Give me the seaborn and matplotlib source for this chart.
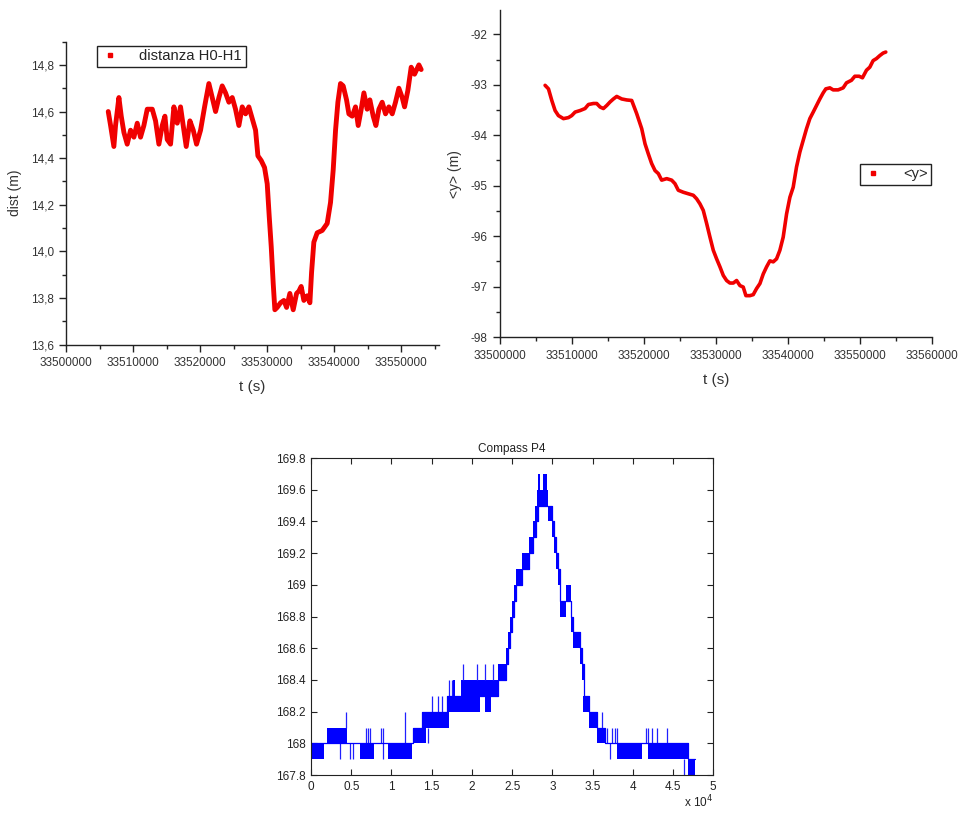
import matplotlib
matplotlib.use("Agg")
import matplotlib.pyplot as plt
import seaborn as sns
from matplotlib.lines import Line2D
from matplotlib.ticker import FuncFormatter, MultipleLocator

# distanza H0-H1 (top left)
dist_t = [33506270, 33506620, 33507110, 33507360, 33507860, 33508210, 33508610, 33509100,
          33509600, 33510100, 33510600, 33511090, 33511590, 33512090, 33512840, 33513330,
          33513830, 33514330, 33514730, 33515070, 33515570, 33516070, 33516570, 33517060,
          33517460, 33517910, 33518460, 33518960, 33519450, 33520050, 33520650, 33521290,
          33521790, 33522290, 33522790, 33523280, 33523780, 33524280, 33524780, 33525270,
          33525770, 33526270, 33526770, 33527260, 33527760, 33528260, 33528610, 33529100,
          33529600, 33530000, 33530300, 33530600, 33530900, 33531140, 33531490, 33531990,
          33532490, 33532890, 33533380, 33533880, 33534380, 33534730, 33535070, 33535470,
          33535970, 33536370, 33536620, 33536960, 33537460, 33538210, 33538950, 33539450,
          33539850, 33540200, 33540550, 33540940, 33541340, 33541840, 33542190, 33542690,
          33543180, 33543580, 33544030, 33544430, 33544920, 33545320, 33545820, 33546220,
          33546670, 33547160, 33547660, 33548160, 33548660, 33549150, 33549650, 33550150,
          33550500, 33550990, 33551490, 33551990, 33552640, 33552980]
dist_m = [14.60, 14.54, 14.45, 14.54, 14.66, 14.58, 14.51, 14.46,
          14.52, 14.49, 14.55, 14.49, 14.54, 14.61, 14.61, 14.56,
          14.46, 14.54, 14.58, 14.48, 14.46, 14.62, 14.55, 14.62,
          14.54, 14.45, 14.56, 14.52, 14.46, 14.52, 14.62, 14.72,
          14.66, 14.60, 14.66, 14.71, 14.68, 14.64, 14.66, 14.61,
          14.54, 14.62, 14.59, 14.62, 14.57, 14.52, 14.41, 14.39,
          14.36, 14.29, 14.15, 14.02, 13.86, 13.75, 13.76, 13.78,
          13.79, 13.76, 13.82, 13.75, 13.82, 13.83, 13.85, 13.79,
          13.81, 13.78, 13.91, 14.04, 14.08, 14.09, 14.12, 14.21,
          14.35, 14.52, 14.64, 14.72, 14.71, 14.65, 14.59, 14.58,
          14.62, 14.54, 14.61, 14.68, 14.61, 14.65, 14.58, 14.54,
          14.61, 14.64, 14.59, 14.62, 14.59, 14.64, 14.70, 14.66,
          14.62, 14.69, 14.79, 14.76, 14.80, 14.78]

# <y> (top right)
y_t = [33506240, 33506710, 33507170, 33507630, 33508090, 33508790, 33509480, 33509940,
       33510410, 33511100, 33511790, 33512260, 33512950, 33513410, 33513880, 33514340,
       33514800, 33515260, 33515730, 33516190, 33516880, 33517580, 33518270, 33518960,
       33519660, 33520120, 33520580, 33521040, 33521510, 33521970, 33522430, 33523130,
       33523820, 33524280, 33524740, 33525440, 33526130, 33526830, 33527290, 33527750,
       33528210, 33528680, 33529140, 33529600, 33530060, 33530530, 33530990, 33531450,
       33531910, 33532380, 33532840, 33533300, 33533760, 33534130, 33534690, 33535150,
       33535610, 33536080, 33536540, 33537000, 33537460, 33537930, 33538390, 33538850,
       33539310, 33539780, 33540240, 33540700, 33541160, 33541630, 33542090, 33542550,
       33543010, 33543480, 33543940, 33544400, 33544860, 33545230, 33545790, 33546250,
       33546940, 33547640, 33548100, 33548790, 33549260, 33549860, 33550320, 33550880,
       33551340, 33551800, 33552260, 33552730, 33553190, 33553560]
y_m = [-93.01, -93.08, -93.31, -93.51, -93.61, -93.67, -93.65, -93.61,
       -93.54, -93.51, -93.47, -93.39, -93.37, -93.37, -93.44, -93.47,
       -93.41, -93.34, -93.28, -93.23, -93.28, -93.30, -93.31, -93.57,
       -93.87, -94.17, -94.37, -94.56, -94.70, -94.76, -94.89, -94.86,
       -94.89, -94.96, -95.09, -95.13, -95.16, -95.19, -95.26, -95.36,
       -95.49, -95.75, -96.02, -96.28, -96.45, -96.61, -96.78, -96.88,
       -96.93, -96.93, -96.88, -96.98, -97.01, -97.18, -97.18, -97.16,
       -97.04, -96.94, -96.75, -96.61, -96.49, -96.51, -96.45, -96.28,
       -96.02, -95.56, -95.23, -95.03, -94.63, -94.33, -94.10, -93.87,
       -93.67, -93.54, -93.41, -93.28, -93.16, -93.08, -93.06, -93.10,
       -93.10, -93.06, -92.96, -92.91, -92.83, -92.83, -92.86, -92.71,
       -92.65, -92.52, -92.48, -92.42, -92.37, -92.35]

# Compass P4 (bottom): bands where the reading flickers between two 0.1 levels
band_x0 = [0, 1950, 6090, 9530, 12630, 13830, 16860, 21620, 18640, 17690,
           23280, 24230, 24480, 24730, 25020, 25270, 25510, 26180, 27130, 27540,
           27830, 28040, 28170, 28870, 29490, 29900, 30190, 30440, 30690, 30940,
           31690, 32270, 32600, 33430, 33670, 33840, 34590, 35580, 37980, 41920,
           46890]
band_x1 = [1620, 4430, 7830, 12510, 14290, 17190, 21000, 22330, 23280, 17930,
           24230, 24480, 24730, 25020, 25270, 25510, 26180, 27130, 27540, 27920,
           28170, 29490, 28460, 29280, 29900, 30190, 30440, 30690, 30940, 31690,
           32270, 32600, 33430, 33670, 33920, 34590, 35580, 36530, 41090, 46890,
           47720]
band_lo = [167.9, 168.0, 167.9, 167.9, 168.0, 168.1, 168.2, 168.2, 168.3, 168.3,
           168.4, 168.5, 168.6, 168.7, 168.8, 168.9, 169.0, 169.1, 169.2, 169.3,
           169.4, 169.5, 169.6, 169.6, 169.4, 169.3, 169.2, 169.1, 169.0, 168.8,
           168.9, 168.7, 168.6, 168.5, 168.4, 168.2, 168.1, 168.0, 167.9, 167.9,
           167.8]
spike_x = [3600, 4310, 4850, 5260, 6790, 7040, 7330, 8700, 8910, 8990, 11680, 14500,
           14990, 15740, 16240, 17190, 17480, 18930, 20590, 21620, 22660, 36120, 36740,
           37150, 37360, 37780, 38070, 41630, 41920, 42330, 42950, 44280, 46350]
spike_lo = [167.9, 168.1, 167.9, 167.9, 168.0, 168.0, 168.0, 168.0, 168.0, 167.9, 168.0, 168.0,
            168.2, 168.2, 168.2, 168.3, 168.3, 168.4, 168.4, 168.4, 168.4, 168.1, 168.0,
            167.9, 168.0, 168.0, 168.0, 168.0, 168.0, 168.0, 168.0, 168.0, 167.8]
spike_hi = [168.0, 168.2, 168.0, 168.0, 168.1, 168.1, 168.1, 168.1, 168.1, 168.0, 168.2, 168.1,
            168.3, 168.3, 168.3, 168.4, 168.4, 168.5, 168.5, 168.5, 168.5, 168.2, 168.1,
            168.0, 168.1, 168.1, 168.1, 168.1, 168.1, 168.1, 168.1, 168.1, 167.9]
trace_x = [0, 12630, 13830, 16860, 23280, 24230, 24480, 24730, 25020, 25270, 25510,
           26180, 27130, 27540, 27920, 28170, 29490, 29900, 30190, 30440, 30690, 30940,
           32270, 32600, 33430, 33670, 33920, 34590, 35580, 36530, 46890, 47720]
trace_y = [168.0, 168.1, 168.2, 168.3, 168.4, 168.5, 168.6, 168.7, 168.8, 168.9, 169.0,
           169.1, 169.2, 169.3, 169.4, 169.5, 169.5, 169.4, 169.3, 169.2, 169.1, 168.9,
           168.8, 168.7, 168.6, 168.5, 168.3, 168.2, 168.1, 168.0, 167.9, 167.9]

sns.set_style("ticks")
plt.rcParams['font.family'] = ['Liberation Sans', 'DejaVu Sans']
plt.rcParams['axes.unicode_minus'] = False

fig = plt.figure(figsize=(9.6, 8.15), dpi=100)
red = '#f00000'
grey = '#333333'


def origin_axes(ax):
    sns.despine(ax=ax)
    for s in ['left', 'bottom']:
        ax.spines[s].set_color('#222222')
        ax.spines[s].set_linewidth(1.0)
    ax.tick_params(which='major', direction='out', length=5, width=1, colors='#222222',
                   labelsize=8.5, labelcolor=grey, pad=4)
    ax.tick_params(which='minor', direction='out', length=3, width=1, colors='#222222')


def square_handle():
    return Line2D([], [], linestyle='none', marker='s', markersize=3.5,
                  markerfacecolor=red, markeredgecolor=red)


# top left
ax1 = fig.add_axes([0.069, 0.577, 0.388, 0.372])
sns.lineplot(x=dist_t, y=dist_m, ax=ax1, color=red, linewidth=3.5, sort=False, estimator=None)
ax1.set_xlim(33500000, 33555600)
ax1.set_ylim(13.6, 14.9)
ax1.xaxis.set_major_locator(MultipleLocator(10000))
ax1.xaxis.set_minor_locator(MultipleLocator(5000))
ax1.yaxis.set_major_locator(MultipleLocator(0.2))
ax1.yaxis.set_minor_locator(MultipleLocator(0.1))
ax1.xaxis.set_major_formatter(FuncFormatter(lambda v, p: f"{v:.0f}"))
ax1.yaxis.set_major_formatter(FuncFormatter(lambda v, p: f"{v:.1f}".replace('.', ',')))
origin_axes(ax1)
ax1.set_xlabel("t (s)", fontsize=11, color=grey, labelpad=8)
ax1.set_ylabel("dist (m)", fontsize=10, color=grey, labelpad=6)
ax1.legend([square_handle()], ["distanza H0-H1"], loc='upper left',
           bbox_to_anchor=(0.101, 0.944), bbox_transform=fig.transFigure,
           fancybox=False, framealpha=1, edgecolor='#222222', fontsize=10.7,
           handlelength=1.2, handletextpad=1.4, borderpad=0.25, borderaxespad=0)

# top right
ax2 = fig.add_axes([0.521, 0.5865, 0.45, 0.401])
sns.lineplot(x=y_t, y=y_m, ax=ax2, color=red, linewidth=2.6, sort=False, estimator=None)
ax2.set_xlim(33500000, 33560000)
ax2.set_ylim(-98, -91.52)
ax2.xaxis.set_major_locator(MultipleLocator(10000))
ax2.xaxis.set_minor_locator(MultipleLocator(5000))
ax2.yaxis.set_major_locator(MultipleLocator(1))
ax2.yaxis.set_minor_locator(MultipleLocator(0.5))
ax2.xaxis.set_major_formatter(FuncFormatter(lambda v, p: f"{v:.0f}"))
ax2.yaxis.set_major_formatter(FuncFormatter(lambda v, p: f"{v:.0f}"))
origin_axes(ax2)
ax2.set_xlabel("t (s)", fontsize=11, color=grey, labelpad=8)
ax2.set_ylabel("<y> (m)", fontsize=10, color=grey, labelpad=6)
ax2.legend([square_handle()], ["<y>"], loc='upper left',
           bbox_to_anchor=(0.896, 0.799), bbox_transform=fig.transFigure,
           fancybox=False, framealpha=1, edgecolor='#222222', fontsize=10.5,
           handlelength=1.2, handletextpad=1.5, borderpad=0.25, borderaxespad=0)

# bottom, Compass P4
ax3 = fig.add_axes([0.324, 0.049, 0.419, 0.389])
widths = [b - a for a, b in zip(band_x0, band_x1)]
ax3.bar(band_x0, [0.1] * len(band_x0), width=widths, bottom=band_lo, align='edge',
        color='#0000ff', linewidth=0)
ax3.vlines(spike_x, spike_lo, spike_hi, color='#2020ff', linewidth=0.9)
sns.lineplot(x=trace_x, y=trace_y, ax=ax3, color='#0000ff', linewidth=0.9,
             drawstyle='steps-post', sort=False, estimator=None)
ax3.set_xlim(0, 50000)
ax3.set_ylim(167.8, 169.8)
ax3.xaxis.set_major_locator(MultipleLocator(5000))
ax3.yaxis.set_major_locator(MultipleLocator(0.2))
ax3.xaxis.set_major_formatter(FuncFormatter(lambda v, p: f"{v / 10000:g}"))
ax3.yaxis.set_major_formatter(FuncFormatter(lambda v, p: f"{v:.1f}".rstrip('0').rstrip('.')))
for s in ax3.spines.values():
    s.set_visible(True)
    s.set_color('#222222')
    s.set_linewidth(0.8)
ax3.tick_params(direction='in', length=4, width=0.8, top=True, right=True,
                colors='#222222', labelsize=8.5, labelcolor='#222222', pad=4)
ax3.set_title("Compass P4", fontsize=8.5, color='#222222', pad=4)
ax3.text(1.0, -0.112, r"x 10$^4$", transform=ax3.transAxes, ha='right', va='bottom',
         fontsize=8.5, color='#222222')

fig.savefig("out.png", dpi=100)
